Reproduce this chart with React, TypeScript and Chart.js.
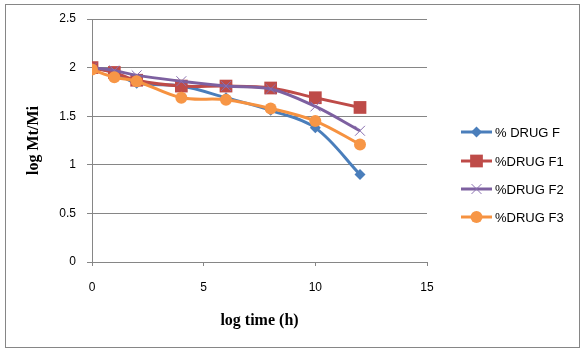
import React, { useEffect, useRef } from "react";
import { Chart, registerables } from "chart.js";

Chart.register(...registerables);

const times = [0, 1, 2, 4, 6, 8, 10, 12];
const drugF = [2.0, 1.95, 1.84, 1.81, 1.69, 1.56, 1.38, 0.9];
const drugF1 = [2.0, 1.95, 1.87, 1.81, 1.81, 1.79, 1.69, 1.59];
const drugF2 = [2.0, 1.97, 1.92, 1.86, 1.81, 1.78, 1.6, 1.35];
const drugF3 = [1.98, 1.9, 1.86, 1.69, 1.67, 1.58, 1.45, 1.21];
const seriesNames = ["% DRUG F", "%DRUG F1", "%DRUG F2", "%DRUG F3"];
const xTicks = [0, 5, 10, 15];
const yTicks = [0, 0.5, 1, 1.5, 2, 2.5];

const colors = [
  { line: "#4A7EBB", marker: "#4A7EBB", style: "rectRot", r: 5.5 },
  { line: "#BE4B48", marker: "#BE4B48", style: "rect", r: 9 },
  { line: "#7D60A0", marker: "#8A70B0", style: "crossRot", r: 7 },
  { line: "#F69240", marker: "#F79646", style: "circle", r: 6 },
];

function drawMarker(ctx: CanvasRenderingContext2D, style: string, x: number, y: number, r: number, color: string) {
  ctx.save();
  ctx.fillStyle = color;
  ctx.strokeStyle = color;
  ctx.beginPath();
  if (style === "rectRot") {
    ctx.moveTo(x, y - r);
    ctx.lineTo(x + r, y);
    ctx.lineTo(x, y + r);
    ctx.lineTo(x - r, y);
    ctx.closePath();
    ctx.fill();
  } else if (style === "rect") {
    const s = r * Math.SQRT1_2;
    ctx.rect(x - s, y - s, 2 * s, 2 * s);
    ctx.fill();
  } else if (style === "crossRot") {
    const s = r * Math.SQRT1_2;
    ctx.lineWidth = 1;
    ctx.moveTo(x - s, y - s);
    ctx.lineTo(x + s, y + s);
    ctx.moveTo(x - s, y + s);
    ctx.lineTo(x + s, y - s);
    ctx.stroke();
  } else {
    ctx.arc(x, y, r, 0, Math.PI * 2);
    ctx.fill();
  }
  ctx.restore();
}

const decorPlugin = {
  id: "decor",
  afterDraw(chart: any) {
    const ctx: CanvasRenderingContext2D = chart.ctx;
    const area = chart.chartArea;
    ctx.save();
    ctx.strokeStyle = "#868686";
    ctx.lineWidth = 1;
    ctx.strokeRect(5.5, 4.5, 574, 343);
    ctx.fillStyle = "#000";
    ctx.font = "bold 16px 'Liberation Serif', serif";
    ctx.textAlign = "center";
    ctx.textBaseline = "middle";
    ctx.fillText("log time (h)", (area.left + area.right) / 2, 321);
    ctx.save();
    ctx.translate(34, (area.top + area.bottom) / 2);
    ctx.rotate(-Math.PI / 2);
    ctx.fillText("log Mt/Mi", 0, 0);
    ctx.restore();
    const ys = [132, 161, 189, 217];
    ctx.font = "13px 'Liberation Sans', sans-serif";
    ctx.textAlign = "left";
    seriesNames.forEach((name, i) => {
      const c = colors[i];
      const y = ys[i];
      ctx.strokeStyle = c.line;
      ctx.lineWidth = 3;
      ctx.beginPath();
      ctx.moveTo(461, y);
      ctx.lineTo(492, y);
      ctx.stroke();
      drawMarker(ctx, c.style, 476.5, y, c.r, c.marker);
      ctx.fillStyle = "#000";
      ctx.fillText(name, 495, y + 1);
    });
    ctx.restore();
  },
};

export default function App() {
  const ref = useRef<HTMLCanvasElement | null>(null);
  useEffect(() => {
    if (!ref.current) return;
    const all = [drugF, drugF1, drugF2, drugF3];
    const chart = new Chart(ref.current, {
      type: "line",
      data: {
        datasets: all.map((vals, i) => ({
          label: seriesNames[i],
          data: times.map((t, j) => ({ x: t, y: vals[j] })),
          borderColor: colors[i].line,
          backgroundColor: colors[i].marker,
          pointBorderColor: colors[i].marker,
          pointBackgroundColor: colors[i].marker,
          pointStyle: colors[i].style as any,
          pointRadius: colors[i].r,
          pointBorderWidth: colors[i].style === "crossRot" ? 1 : 0,
          borderWidth: 3,
          tension: 0.35,
          fill: false,
          order: 4 - i,
        })),
      },
      options: {
        responsive: false,
        animation: false,
        layout: { padding: { left: 0, right: 157, top: 19, bottom: 0 } },
        plugins: { legend: { display: false }, tooltip: { enabled: false } },
        scales: {
          x: {
            type: "linear",
            min: 0,
            max: 15,
            afterBuildTicks: (s: any) => {
              s.ticks = xTicks.map((v) => ({ value: v }));
            },
            afterFit: (s: any) => {
              s.height = 91;
            },
            grid: { drawOnChartArea: false, drawTicks: true, tickLength: 4, color: "#868686" },
            border: { color: "#868686" },
            ticks: {
              color: "#000",
              padding: 14,
              font: { family: "'Liberation Sans', sans-serif", size: 12 },
              maxRotation: 0,
              callback: (v: any) => String(v),
            },
          },
          y: {
            min: 0,
            max: 2.5,
            afterBuildTicks: (s: any) => {
              s.ticks = yTicks.map((v) => ({ value: v }));
            },
            afterFit: (s: any) => {
              s.width = 92;
            },
            grid: { color: "#868686", tickLength: 5 },
            border: { color: "#868686" },
            ticks: {
              color: "#000",
              padding: 11,
              font: { family: "'Liberation Sans', sans-serif", size: 12 },
              callback: (v: any) => String(v),
            },
          },
        },
      },
      plugins: [decorPlugin],
    });
    return () => chart.destroy();
  }, []);
  return (
    <div style={{ position: "absolute", left: 0, top: 0, width: 584, height: 353, background: "#fff" }}>
      <canvas ref={ref} width={584} height={353} style={{ display: "block" }} />
    </div>
  );
}
